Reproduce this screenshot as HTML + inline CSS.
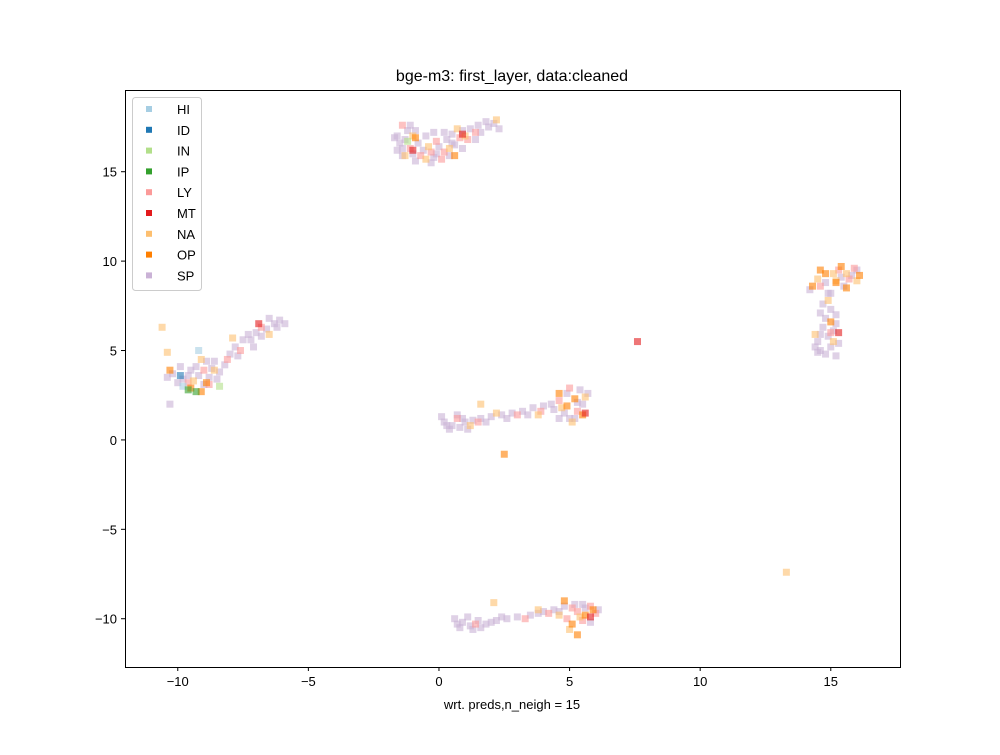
<!DOCTYPE html>
<html><head><meta charset="utf-8"><style>
body{margin:0;background:#fff}
svg text{font-family:"Liberation Sans","DejaVu Sans",sans-serif;fill:#000}
</style></head><body>
<svg id="chart" width="1000" height="750" xmlns="http://www.w3.org/2000/svg">
<rect width="1000" height="750" fill="#fff"/>
<text x="512" y="81" font-size="16" text-anchor="middle">bge-m3: first_layer, data:cleaned</text>
<g id="marks"></g>
<rect x="125.5" y="90.5" width="775" height="577" fill="none" stroke="#000" stroke-width="1"/>
<g id="axes"></g>
<text x="512" y="709" font-size="13" text-anchor="middle">wrt. preds,n_neigh = 15</text>
<g id="legend"></g>
</svg>
<script>
const categories=["HI","ID","IN","IP","LY","MT","NA","OP","SP"];
const colors=["#a6cee3","#1f78b4","#b2df8a","#33a02c","#fb9a99","#e31a1c","#fdbf6f","#ff7f00","#cab2d6"];
const xTicks=[-10,-5,0,5,10,15];
const yTicks=[-10,-5,0,5,10,15];
const spPoints=[[-1.6,17],[-1.3,16.8],[-1.2,17.3],[-1.4,16.3],[-1,16],[-0.8,16.6],[-0.5,17],[-0.6,16.2],[-0.2,15.8],[0,16.4],[0.3,16.8],[0.5,17.1],[0.9,17.3],[1.2,17.4],[1.5,17.6],[1.8,17.8],[2.1,17.7],[1.9,17.5],[-1.1,17.6],[-0.3,15.5],[0.6,16.5],[-1.5,16.6],[-0.9,17.3],[0.2,17.2],[1.6,17.2],[-1.7,16.9],
[-1.4,15.9],[-0.9,15.6],[0.4,15.9],[-0.2,17.2],[0.9,16.3],[1.4,16.8],[2.3,17.4],[-1.6,16.2],[-0.1,16],[0.5,16.6],
[14.6,5],[14.8,4.8],[15,5.2],[14.5,5.5],[14.9,5.8],[14.7,6.3],[14.8,6.8],[15,7.3],[14.7,7.6],[15,8.2],[15.5,8.6],[14.8,8.8],[15.8,9.2],[15.2,4.7],[14.4,5.2],[15.1,6.1],[15.2,7],
[14.2,8.4],[14.9,8.2],[15.4,9.1],[16,9.5],[14.6,7.1],[15.2,6.5],[14.5,4.9],[15.3,5.4],[14.6,5.9],
[-10.2,3.7],[-9.8,3.4],[-9.5,3.9],[-9.2,3.6],[-8.8,3.5],[-8.4,3.8],[-8.2,4.2],[-8,4.8],[-7.8,5.2],[-7.5,5.6],[-7.2,5.6],[-7,6],[-6.6,6.2],[-6.3,6.5],[-6.1,6.7],[-8.5,3.4],[-9.9,4.1],[-10.3,2],[-9.3,4.1],[-8.6,4.4],[-7.3,5.9],[-6.5,6.8],
[-10,3.2],[-9.6,3.6],[-9,3.1],[-8.7,4],[-8.9,4.4],[-7.7,4.7],[-7.1,5.2],[-6.8,5.8],[-6.2,6.3],[-5.9,6.5],[-10.4,3.5],
[0.2,1],[0.5,0.8],[0.8,0.7],[1,1],[1.3,1.1],[1.6,1.2],[2,1.3],[2.4,1.4],[2.8,1.5],[3.2,1.6],[3.6,1.8],[4,1.9],[4.3,2],[4.8,1.5],[5.2,1.2],[5.5,2],[4.9,2.6],[0.4,0.6],[0.1,1.3],[0.7,1.4],[1.1,0.6],[5.4,2.8],
[0.3,0.8],[0.9,1.2],[1.8,1],[2.6,1.2],[3.4,1.4],[4.4,1.7],[5,1.2],[5.7,2.6],[5.3,2.1],[4.6,1.2],
[0.6,-10],[0.9,-10.2],[1.2,-10.4],[1.5,-10.1],[1.8,-10.3],[2.2,-10.1],[2.6,-10],[3,-9.9],[3.5,-9.8],[4,-9.6],[4.4,-9.5],[4.8,-9.3],[5.2,-9.2],[5.6,-9.4],[1.1,-9.9],[0.8,-10.5],[1.6,-10.5],
[0.7,-10.3],[1.3,-10.6],[2,-10.2],[2.4,-9.9],[3.8,-9.7],[4.6,-9.6],[5.5,-9.2],[6.1,-9.5],[5.8,-10.2]];
const lyPoints=[[-1.1,16.3],[-0.7,15.9],[-0.3,16.1],[0.2,16.1],[0.8,16.9],[1.4,17.2],[-1.4,17.6],[0.1,15.7],[-0.1,16.7],[1.1,16.8],
[15.3,9.5],[14.6,8.6],[15.9,9.6],[15,6],[15.7,9],
[-9.6,3.2],[-9,3.9],[-7.6,5],[-6.8,6.3],[-8.8,3.1],[-8.1,4.5],
[1.5,1],[3,1.4],[5,2.9],[5.3,1.6],[4.6,2.2],[0.7,1.2],[3.9,1.6],
[4.9,-10],[5.3,-9.6],[5.8,-9.3],[6,-9.7],[5.5,-10.1],[4.2,-9.7],[3.3,-10],[1.4,-10.3],[5.1,-9.4]];
const naPoints=[[-1,17],[-0.4,16.4],[0.4,16.3],[1,17],[-1.3,15.9],[0.7,17.4],[2.2,17.9],[-0.5,15.7],
[14.5,9],[15.2,8.9],[15.6,9.3],[16,8.9],[14.9,7.8],[14.4,5.9],[15.1,5.5],[15.1,9.3],
[-10.6,6.3],[-10.4,4.9],[-9.4,3.3],[-8.6,3.9],[-7.9,5.7],[-6.5,5.9],[-9.1,4.5],
[1.2,0.8],[2.2,1.5],[3.8,1.4],[4.7,1.8],[5.6,2.4],[1.6,2],[5.1,1],
[2.1,-9.1],[5,-10.6],[5.4,-9.9],[4.6,-9.8],[3.8,-9.5],[13.3,-7.4]];
const opPoints=[[14.3,8.6],[14.8,9.3],[15.4,9.7],[16.1,9.2],[15.6,8.5],[15.2,8.8],[15,6.6],[14.6,9.5],
[-9.5,2.9],[-9.1,2.7],[-8.9,3.2],[-10.3,3.9],
[5.2,2.3],[4.9,1.9],[5.5,1.4],[2.5,-0.8],[4.6,2.6],
[5.1,-10.3],[5.6,-9.8],[4.8,-9],[5.9,-9.5],[5.3,-10.9],
[-0.9,16.9],[0.6,15.9]];
const mtPoints=[[7.6,5.5],[-6.9,6.5],[15.3,6],[5.6,1.5],[-1,16.2],[0.9,17.1],[5.8,-9.9]];
const ipPoints=[[-9.3,2.7],[-9.6,2.8]];
const hiPoints=[[-9.2,5],[-9.8,3]];
const inPoints=[[-8.4,3],[-1.2,16.7]];
const idPoints=[[-9.9,3.6]];
const seriesByCat={HI:hiPoints,ID:idPoints,IN:inPoints,IP:ipPoints,LY:lyPoints,MT:mtPoints,NA:naPoints,OP:opPoints,SP:spPoints};

const NS="http://www.w3.org/2000/svg";
const L=125,R=900,T=90,B=667;
const xMin=-12.02,xMax=17.65,yMin=-12.7,yMax=19.57;
const sx=v=>L+(v-xMin)/(xMax-xMin)*(R-L);
const sy=v=>B-(v-yMin)/(yMax-yMin)*(B-T);
function mk(tag,attrs,parent){const e=document.createElementNS(NS,tag);for(const k in attrs)e.setAttribute(k,attrs[k]);parent.appendChild(e);return e;}

const marks=document.getElementById('marks');
const order=["SP","LY","NA","OP","HI","IN","IP","ID","MT"];
order.forEach(cat=>{
  const ci=categories.indexOf(cat);
  seriesByCat[cat].forEach(p=>{
    const r=mk('rect',{x:sx(p[0])-3.5,y:sy(p[1])-3.5,width:7,height:7,fill:colors[ci],'fill-opacity':0.6},marks);
    
    
  });
});

const axes=document.getElementById('axes');
xTicks.forEach(t=>{
  const x=sx(t);
  const l=mk('line',{x1:x,x2:x,y1:B,y2:B+4,stroke:'#000'},axes);
  
  
  const tx=mk('text',{x:x,y:B+19,'font-size':13,'text-anchor':'middle'},axes);
  tx.textContent=t<0?'\u2212'+Math.abs(t):String(t);
  
  
});
yTicks.forEach(t=>{
  const y=sy(t);
  const l=mk('line',{x1:L-4,x2:L,y1:y,y2:y,stroke:'#000'},axes);
  
  
  const tx=mk('text',{x:L-8,y:y+5,'font-size':13,'text-anchor':'end'},axes);
  tx.textContent=t<0?'\u2212'+Math.abs(t):String(t);
  
  
});

const lg=document.getElementById('legend');
const box=mk('rect',{x:132.5,y:97.5,width:69,height:193,rx:3,fill:'#fff','fill-opacity':0.8,stroke:'#ccc'},lg);


categories.forEach((c,i)=>{
  const y=109+i*20.8;
  const m=mk('rect',{x:146,y:y-3,width:6,height:6,fill:colors[i]},lg);
  
  
  const t=mk('text',{x:177,y:y+5,'font-size':13},lg);
  t.textContent=c;
  
  
});
</script>
</body></html>
